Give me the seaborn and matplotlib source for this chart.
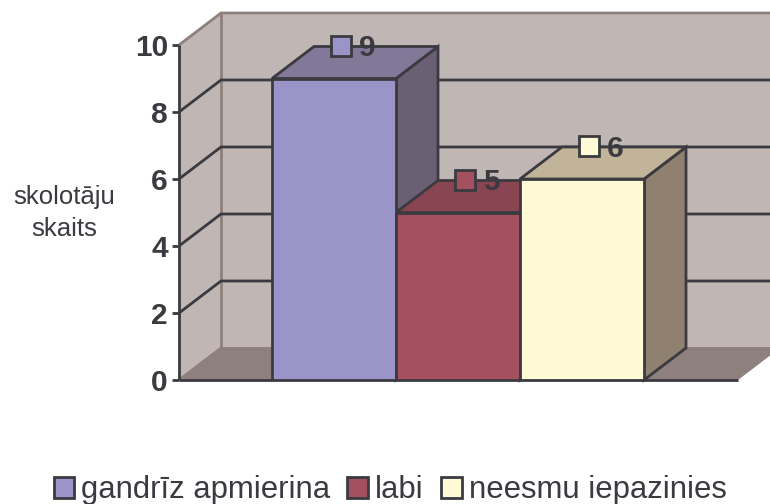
import matplotlib
matplotlib.use("Agg")
import matplotlib.pyplot as plt
import pandas as pd
import seaborn as sns
from matplotlib.patches import Polygon, Patch

categories = ["gandrīz apmierina", "labi", "neesmu iepazinies"]
values = [9, 5, 6]
y_ticks = [0, 2, 4, 6, 8, 10]
y_label = "skolotāju\nskaits"
front_colors = ["#9A94C8", "#A5505F", "#FFF9D6"]
top_colors = ["#827897", "#8A4552", "#C2B498"]
side_colors = ["#6B5F74", "#6F3A44", "#908070"]
WALL = "#C0B7B4"
FLOOR = "#8E807C"
WALL_EDGE = "#8E807C"
INK = "#3A3A40"
LW = 2.0

sns.set_theme(style="white", rc={"font.family": ["Liberation Sans", "DejaVu Sans"]})
plt.rcParams["font.family"] = ["Liberation Sans", "DejaVu Sans"]

W, H = 770, 504
fig = plt.figure(figsize=(W / 100, H / 100), dpi=100, facecolor="white")
# axes spans x 179..770 px, y 380..13 px
ax = fig.add_axes([179 / W, (H - 380) / H, (770 - 179) / W, (380 - 13) / H])

df = pd.DataFrame({"kat": categories, "skaits": values})
sns.barplot(data=df, x="kat", y="skaits", hue="kat", palette=front_colors,
            dodge=False, width=1, legend=False, saturation=1, ax=ax,
            edgecolor=INK, linewidth=LW, zorder=10)

px_x, px_y = 124.0, 33.5
x0 = -0.5 - (272 - 179) / px_x
x1 = x0 + (770 - 179) / px_x
ax.set_xlim(x0, x1)
ax.set_ylim(0, (380 - 13) / px_y)
dx, dy = 42 / px_x, 32 / px_y
x_front_end = -0.5 + (738 - 272) / px_x
y_max = y_ticks[-1]


def poly(pts, fc, ec, z):
    ax.add_patch(Polygon(pts, closed=True, facecolor=fc, edgecolor=ec, linewidth=LW,
                         zorder=z, clip_on=False, joinstyle="miter"))


def line(xs, ys, c, z, lw=LW):
    ax.plot(xs, ys, color=c, lw=lw, zorder=z, clip_on=False, solid_capstyle="butt")


# walls and floor
poly([(x0, 0), (x0 + dx, dy), (x_front_end + dx, dy), (x_front_end, 0)], FLOOR, "none", 1)
poly([(x0 + dx, dy), (x_front_end + dx, dy), (x_front_end + dx, y_max + dy), (x0 + dx, y_max + dy)],
     WALL, "none", 1)
poly([(x0, 0), (x0 + dx, dy), (x0 + dx, y_max + dy), (x0, y_max)], WALL, "none", 1)
line([x0 + dx, x_front_end + dx], [dy, dy], WALL_EDGE, 2)
line([x0 + dx, x0 + dx], [dy, y_max + dy], WALL_EDGE, 2)
line([x0, x0 + dx, x_front_end + dx], [y_max, y_max + dy, y_max + dy], WALL_EDGE, 2)
line([x0, x0 + dx], [0, dy], WALL_EDGE, 2)

# gridlines on left and back walls
for t in y_ticks[1:-1]:
    line([x0, x0 + dx, x_front_end + dx], [t, t + dy, t + dy], INK, 3)

# extruded sides and tops of bars
for i, v in enumerate(values):
    l, r = i - 0.5, i + 0.5
    z = 4 + i
    poly([(r, 0), (r + dx, dy), (r + dx, v + dy), (r, v)], side_colors[i], INK, z)
    poly([(l, v), (r, v), (r + dx, v + dy), (l + dx, v + dy)], top_colors[i], INK, z)

# data labels: legend key and value
for i, v in enumerate(values):
    mx = i - 0.5 + (340.5 - 272) / px_x
    my = v + dy + 1 / px_y
    ax.plot([mx], [my], marker="s", ms=14, mfc=front_colors[i], mec=INK, mew=LW,
            zorder=20, clip_on=False, ls="none")
    ax.text(mx + 26.5 / px_x, my, str(v), fontsize=21.5, fontweight="bold", color=INK,
            ha="center", va="center_baseline", zorder=20, clip_on=False)

# front floor edge and axis
line([x0, x_front_end], [0, 0], INK, 8)
line([x0, x0], [0, y_max], INK, 8)

sns.despine(ax=ax, left=True, bottom=True, top=True, right=True)
ax.set_facecolor("none")
ax.set_xticks([])
ax.set_xlabel("")
ax.set_yticks(y_ticks)
ax.tick_params(axis="y", left=True, length=5, width=LW, color=INK, labelsize=21.5,
               labelcolor=INK, pad=3)
for lab in ax.get_yticklabels():
    lab.set_fontweight("bold")
ax.set_ylabel(y_label, rotation=0, fontsize=18.5, color=INK, ha="center", va="center",
              linespacing=1.4)
ax.yaxis.set_label_coords((64 - 179) / (770 - 179), (380 - 213) / (380 - 13))

handles = [Patch(facecolor=c, edgecolor=INK, linewidth=LW) for c in front_colors]
fig.legend(handles, categories, loc="center", bbox_to_anchor=(390 / W, (H - 490) / H),
           ncol=3, frameon=False, fontsize=22.4, labelcolor=INK, handlelength=0.67,
           handleheight=0.67, handletextpad=0.22, columnspacing=0.55, borderpad=0)

fig.savefig("out.png", dpi=100, facecolor="white")
